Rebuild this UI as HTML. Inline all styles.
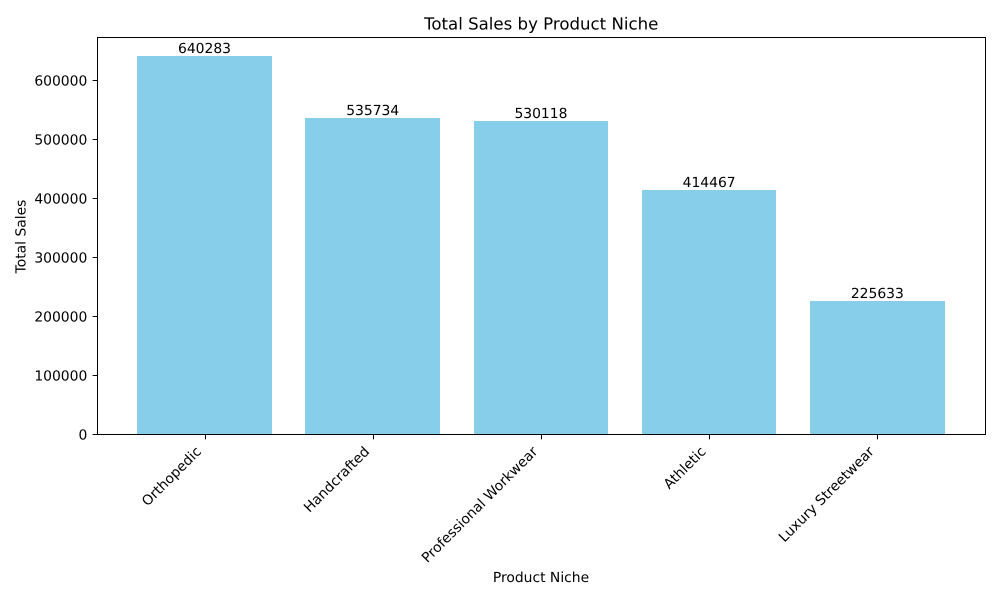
<!DOCTYPE html>
<html>
<head>
<meta charset="utf-8">
<title>Total Sales by Product Niche</title>
<style>
html,body{margin:0;padding:0;background:#fff;width:1000px;height:600px;overflow:hidden}
svg{display:block}
text{font-family:"DejaVu Sans",sans-serif;font-size:13.89px;fill:#000;text-rendering:geometricPrecision}
</style>
</head>
<body>
<svg id="chart" width="1000" height="600" viewBox="0 0 1000 600" xmlns="http://www.w3.org/2000/svg"></svg>
<script>
const categories = ["Orthopedic", "Handcrafted", "Professional Workwear", "Athletic", "Luxury Streetwear"];
const totalSales = [640283, 535734, 530118, 414467, 225633];
const yTicks = [0, 100000, 200000, 300000, 400000, 500000, 600000];

const svg = document.getElementById('chart');
const NS = 'http://www.w3.org/2000/svg';
const plot = {left: 96.85, right: 985, top: 37.5, bottom: 434.4};
const barWidth = 0.8;

const yMax = Math.max(...totalSales) * 1.05;
const xMin = -barWidth / 2 - 0.05 * (categories.length - 1 + barWidth);
const xMax = categories.length - 1 + barWidth / 2 + 0.05 * (categories.length - 1 + barWidth);
function xScale(i) { return plot.left + (i - xMin) / (xMax - xMin) * (plot.right - plot.left); }
function yScale(v) { return plot.bottom - v / yMax * (plot.bottom - plot.top); }

function make(tag, attrs, text) {
  const el = document.createElementNS(NS, tag);
  for (const k in attrs) el.setAttribute(k, attrs[k]);
  if (text !== undefined) el.textContent = text;
  svg.appendChild(el);
  return el;
}

categories.forEach(function (cat, i) {
  const x0 = Math.round(xScale(i - barWidth / 2));
  const x1 = Math.round(xScale(i + barWidth / 2));
  const yTop = Math.round(yScale(totalSales[i]));
  const bar = make('rect', {x: x0, y: yTop, width: x1 - x0, height: 434 - yTop, fill: '#87ceeb', 'shape-rendering': 'crispEdges'});
  
  

  const value = make('text', {x: xScale(i), y: yTop - 3, 'text-anchor': 'middle'}, String(totalSales[i]));
  
  

  const px = Math.round(xScale(i) + 0.1) + 0.5;
  const tick = make('line', {x1: px, x2: px, y1: 434.5, y2: 439.4, stroke: '#000', 'stroke-width': 1});
  
  

  const lx = xScale(i) - 2.5;
  const ly = 452.4;
  const label = make('text', {x: lx, y: ly, 'text-anchor': 'end', transform: 'rotate(-45 ' + lx + ' ' + ly + ')'}, cat);
  
  
});

yTicks.forEach(function (v) {
  const py = Math.round(yScale(v) - 0.5) + 0.5;
  const tick = make('line', {x1: 92.6, x2: 97.5, y1: py, y2: py, stroke: '#000', 'stroke-width': 1});
  
  

  const label = make('text', {x: 87.3, y: py + 5, 'text-anchor': 'end'}, String(v));
  
  
});

const frame = make('rect', {x: 97.5, y: 37.5, width: 888, height: 397, fill: 'none', stroke: '#000', 'stroke-width': 1});



const title = make('text', {x: 541.2, y: 29.5, 'text-anchor': 'middle', style: 'font-size:16.6px'}, 'Total Sales by Product Niche');



const xTitle = make('text', {x: 541, y: 582, 'text-anchor': 'middle'}, 'Product Niche');



const yTitle = make('text', {x: 25.3, y: 236.5, 'text-anchor': 'middle', transform: 'rotate(-90 25.3 236.5)'}, 'Total Sales');


</script>
</body>
</html>
